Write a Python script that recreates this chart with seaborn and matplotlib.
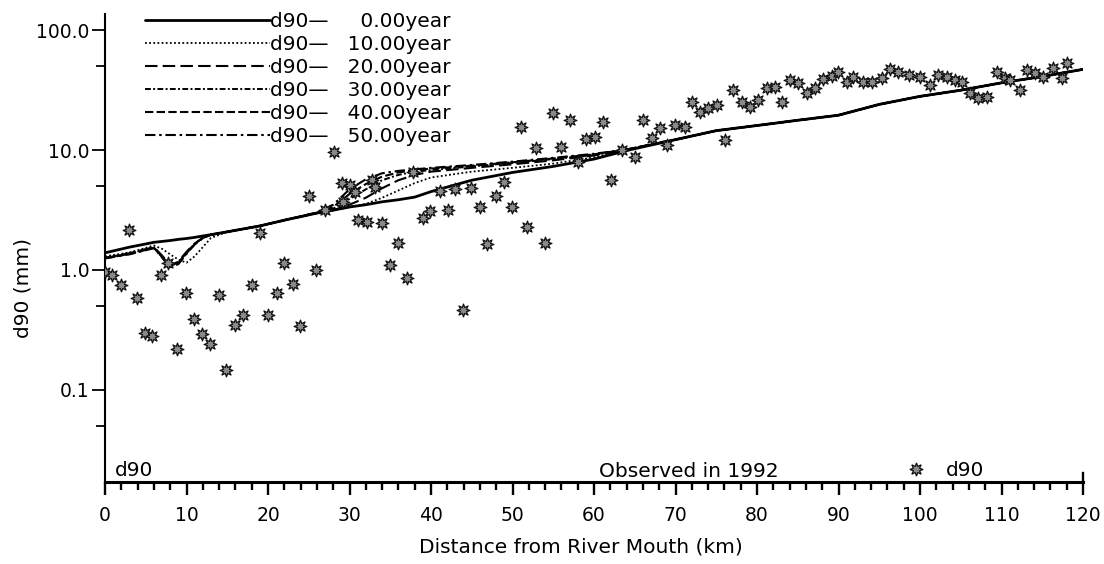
import numpy as np
import pandas as pd
import matplotlib
matplotlib.use("Agg")
import matplotlib.pyplot as plt
import matplotlib.transforms as mtransforms
from matplotlib.ticker import FixedLocator, FixedFormatter, NullFormatter
from matplotlib.lines import Line2D
import seaborn as sns

# ---------------- data ----------------
km_model = [0, 3, 6, 7, 8, 9, 10, 11, 12, 13, 15, 19, 22, 26, 28, 30, 32, 34, 36, 38,
            40, 45, 50, 55, 60, 64, 70, 75, 80, 85, 90, 95, 100, 105, 110, 115, 120]
tail = [12.2, 14.5, 16.0, 17.7, 19.5, 24.0, 28.0, 31.5, 36.3, 41.0, 47.0]
d90_0yr = [1.39, 1.55, 1.70, 1.73, 1.76, 1.80, 1.83, 1.87, 1.92, 1.97,
           2.08, 2.33, 2.60, 2.98, 3.15, 3.35, 3.50, 3.70, 3.85, 4.05,
           4.50, 5.60, 6.50, 7.30, 8.40, 9.90] + tail
d90_10yr = [1.30, 1.40, 1.60, 1.50, 1.35, 1.22, 1.15, 1.30, 1.55, 1.85,
            2.08, 2.33, 2.60, 2.98, 3.15, 3.35, 3.55, 4.00, 4.60, 5.30,
            5.90, 6.60, 7.10, 7.70, 8.70, 10.0] + tail
d90_20yr = [1.26, 1.38, 1.55, 1.32, 1.10, 1.17, 1.42, 1.66, 1.86, 1.97,
            2.08, 2.33, 2.60, 2.98, 3.15, 3.50, 4.00, 4.80, 5.60, 6.20,
            6.60, 7.10, 7.60, 8.20, 9.00, 10.1] + tail
d90_30yr = [1.26, 1.37, 1.54, 1.30, 1.08, 1.15, 1.40, 1.65, 1.85, 1.97,
            2.08, 2.33, 2.60, 2.98, 3.25, 3.90, 4.70, 5.60, 6.20, 6.60,
            6.80, 7.30, 7.80, 8.40, 9.10, 10.1] + tail
d90_40yr = [1.25, 1.36, 1.53, 1.28, 1.06, 1.13, 1.38, 1.64, 1.85, 1.97,
            2.08, 2.33, 2.60, 3.00, 3.35, 4.30, 5.20, 6.00, 6.50, 6.80,
            7.00, 7.40, 7.90, 8.50, 9.20, 10.1] + tail
d90_50yr = [1.25, 1.35, 1.52, 1.27, 1.05, 1.12, 1.36, 1.63, 1.84, 1.97,
            2.08, 2.33, 2.60, 3.02, 3.50, 4.70, 5.70, 6.40, 6.70, 6.90,
            7.10, 7.50, 8.00, 8.60, 9.30, 10.1] + tail
years = ["0.00", "10.00", "20.00", "30.00", "40.00", "50.00"]

obs_km = [0.0, 0.9, 2.0, 2.9, 3.9, 4.9, 5.8, 6.9, 7.7, 8.8,
          9.9, 10.9, 11.9, 12.9, 14.0, 14.8, 16.0, 16.9, 18.0, 19.0,
          20.0, 21.1, 22.0, 23.1, 23.9, 25.0, 25.9, 27.0, 28.1, 29.1,
          29.2, 30.1, 30.7, 31.0, 32.1, 32.8, 33.1, 34.0, 35.0, 36.0,
          37.1, 37.8, 39.0, 39.9, 41.1, 42.1, 42.9, 43.9, 44.9, 46.0,
          46.9, 48.0, 49.0, 49.9, 51.0, 51.8, 52.9, 54.0, 55.0, 56.0,
          57.1, 58.0, 59.0, 60.1, 61.1, 62.1, 63.4, 65.0, 66.0, 67.1,
          68.1, 69.0, 69.9, 71.2, 72.0, 73.0, 74.0, 75.1, 76.1, 77.1,
          78.2, 79.1, 80.1, 81.2, 82.2, 83.1, 84.0, 85.0, 86.1, 87.1,
          88.1, 89.2, 89.9, 91.0, 91.8, 93.0, 94.1, 95.3, 96.3, 97.3,
          98.6, 100.0, 101.2, 102.2, 103.3, 104.3, 105.2, 106.1, 107.1, 108.2,
          109.4, 110.4, 111.0, 112.3, 113.1, 114.1, 115.1, 116.3, 117.4, 118.0]
obs_d90 = [0.96, 0.91, 0.75, 2.15, 0.58, 0.30, 0.28, 0.91, 1.15, 0.22,
           0.64, 0.39, 0.29, 0.24, 0.62, 0.147, 0.35, 0.42, 0.75, 2.03,
           0.42, 0.64, 1.14, 0.76, 0.34, 4.1, 1.0, 3.16, 9.6, 5.3,
           3.7, 5.1, 4.5, 2.6, 2.5, 5.6, 4.9, 2.47, 1.1, 1.68,
           0.86, 6.5, 2.7, 3.1, 4.55, 3.16, 4.7, 0.46, 4.8, 3.35,
           1.65, 4.1, 5.4, 3.35, 15.5, 2.28, 10.4, 1.68, 20.3, 10.6,
           17.8, 7.9, 12.3, 12.8, 17.1, 5.6, 10.0, 8.7, 17.8, 12.6,
           15.3, 11.0, 16.2, 15.6, 25, 20.8, 22.4, 23.7, 12.2, 31.6,
           25, 22.8, 26, 33, 33.5, 25, 38, 36, 30, 33,
           39, 41, 44.6, 37, 40.6, 37, 37, 40, 47, 44.5,
           42, 40.6, 34.8, 42, 40.6, 38, 37, 30, 27, 27.5,
           44.6, 40, 38, 31.6, 46, 44, 40.6, 48, 40, 53]

x_ticks = list(range(0, 121, 10))
x_minor = list(range(0, 121, 2))
y_ticks = [0.1, 1.0, 10.0, 100.0]
y_tick_labels = ["0.1", "1.0", "10.0", "100.0"]
y_minor = [0.05, 0.5, 5.0, 50.0]

# ---------------- style ----------------
sns.set_theme(style="ticks", rc={
    "text.color": "black", "axes.labelcolor": "black",
    "xtick.color": "black", "ytick.color": "black",
    "axes.edgecolor": "black",
})
plt.rcParams["font.family"] = ["DejaVu Sans"]
FS = 14.5

fig = plt.figure(figsize=(11.04, 5.64), dpi=100)
ax = fig.add_axes([105 / 1104, 1 - 482 / 564, 978 / 1104, 468 / 564])

series = [d90_0yr, d90_10yr, d90_20yr, d90_30yr, d90_40yr, d90_50yr]
model_df = pd.DataFrame({
    "km": np.tile(km_model, len(years)),
    "d90": np.concatenate(series),
    "year": np.repeat(years, len(km_model)),
})
dash_map = {"0.00": "", "10.00": (1, 1.3), "20.00": (6, 2.5),
            "30.00": (3, 1.2, 1, 1.2), "40.00": (4, 1.6), "50.00": (5, 1.8, 1.2, 1.8)}
sns.lineplot(data=model_df, x="km", y="d90", style="year", style_order=years,
             dashes=dash_map, color="black", estimator=None, sort=False,
             legend=False, ax=ax, zorder=2)
line_handles = list(ax.lines[:6])
lws = [2.0, 1.3, 1.5, 1.4, 1.5, 1.5]
for ln, lw in zip(line_handles, lws):
    ln.set_linewidth(lw)

star = (8, 1, 0)
sns.scatterplot(x=obs_km, y=obs_d90, marker=star, s=85, color="#8a8a8a",
                edgecolor="#111111", linewidth=0.9, ax=ax, zorder=3, legend=False)

ax.set_yscale("log")
ax.set_xlim(0, 120)
ax.set_ylim(0.0171, 136)

ax.xaxis.set_major_locator(FixedLocator(x_ticks))
ax.xaxis.set_minor_locator(FixedLocator(x_minor))
ax.yaxis.set_major_locator(FixedLocator(y_ticks))
ax.yaxis.set_major_formatter(FixedFormatter(y_tick_labels))
ax.yaxis.set_minor_locator(FixedLocator(y_minor))
ax.yaxis.set_minor_formatter(NullFormatter())

ax.tick_params(axis="x", which="major", direction="out", length=9.5, width=1.7,
               pad=8, labelsize=13.5)
ax.tick_params(axis="x", which="minor", direction="out", length=5.8, width=1.7)
ax.tick_params(axis="y", which="major", direction="out", length=9.5, width=1.3,
               pad=1.5, labelsize=13.5)
ax.tick_params(axis="y", which="minor", direction="out", length=6.5, width=1.3)

ax.spines["top"].set_visible(False)
ax.spines["bottom"].set_linewidth(2.2)
ax.spines["left"].set_linewidth(1.5)
ax.spines["right"].set_linewidth(1.7)
ax.spines["right"].set_bounds(0.0171, 0.0205)

ax.set_xlabel("Distance from River Mouth (km)", fontsize=FS)
ax.xaxis.set_label_coords(0.487, -0.118)
ax.set_ylabel("d90 (mm)", fontsize=FS)
ax.yaxis.set_label_coords(-0.0746, 0.415)

trans = mtransforms.blended_transform_factory(ax.transData, ax.transAxes)
ax.text(1.2, 6 / 468, "d90", transform=trans, fontsize=FS, va="baseline")
ax.text(60.6, 5 / 468, "Observed in 1992", transform=trans, fontsize=FS, va="baseline")

labels = ["d90\u2014     0.00year", "d90\u2014   10.00year", "d90\u2014   20.00year",
          "d90\u2014   30.00year", "d90\u2014   40.00year", "d90\u2014   50.00year"]
leg1 = ax.legend(handles=line_handles, labels=labels, loc="upper left",
                 bbox_to_anchor=(40 / 978, 470 / 468), frameon=False, borderpad=0,
                 borderaxespad=0, handlelength=6.2, handletextpad=0.0,
                 labelspacing=0.2, fontsize=FS)
key = Line2D([], [], marker=star, ls="", ms=9.5, mfc="#8a8a8a", mec="#111111", mew=0.9)
leg2 = ax.legend(handles=[key], labels=["d90"], loc="lower left",
                 bbox_to_anchor=(801 / 978, 2 / 468), frameon=False, borderpad=0,
                 borderaxespad=0, handlelength=1.0, handletextpad=1.0, fontsize=FS)
ax.add_artist(leg1)

fig.savefig("out.png", dpi=100)
